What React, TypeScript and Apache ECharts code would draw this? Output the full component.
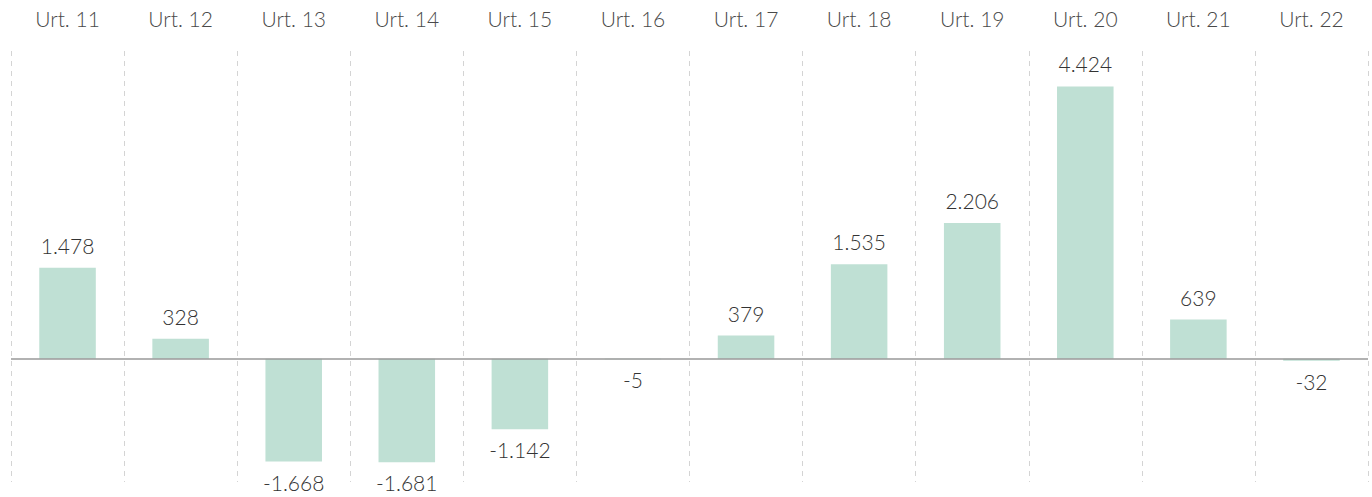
import React, { useEffect, useRef } from "react";
import * as echarts from "echarts";

const categories = ["Urt. 11", "Urt. 12", "Urt. 13", "Urt. 14", "Urt. 15", "Urt. 16", "Urt. 17", "Urt. 18", "Urt. 19", "Urt. 20", "Urt. 21", "Urt. 22"];
const values = [1478, 328, -1668, -1681, -1142, -5, 379, 1535, 2206, 4424, 639, -32];

const fmt = (v: number) => {
  const s = Math.abs(v).toString().replace(/\B(?=(\d{3})+(?!\d))/g, ".");
  return (v < 0 ? "-" : "") + s;
};

export default function App() {
  const ref = useRef<HTMLDivElement>(null);
  useEffect(() => {
    if (!ref.current) return;
    document.body.style.margin = "0";
    document.body.style.overflow = "hidden";
    const chart = echarts.init(ref.current, undefined, { renderer: "svg" });
    chart.setOption({
      animation: false,
      grid: { left: 11, right: 4, top: 51, bottom: 15, containLabel: false },
      xAxis: {
        type: "category",
        data: categories,
        position: "top",
        boundaryGap: true,
        axisLine: { show: false, onZero: false },
        axisTick: { show: false },
        axisLabel: {
          margin: 22,
          color: "#4a4a4a",
          fontFamily: "Lato",
          fontWeight: 300,
          fontSize: 21,
          interval: 0,
        },
        splitLine: {
          show: true,
          interval: 0,
          lineStyle: { color: "#d4d4d4", type: [5, 5], width: 1 },
        },
      },
      yAxis: {
        type: "value",
        min: -2000,
        max: 5000,
        show: false,
        splitLine: { show: false },
      },
      series: [
        {
          type: "bar",
          barWidth: "50%",
          itemStyle: { color: "#bfe0d4" },
          data: values.map((v) => ({
            value: v,
            label: { position: v < 0 ? "bottom" : "top", distance: v < 0 ? 10 : 12 },
          })),
          label: {
            show: true,
            color: "#333",
            fontFamily: "Lato",
            fontWeight: 300,
            fontSize: 21,
            formatter: (p: any) => fmt(p.value),
          },
          markLine: {
            silent: true,
            symbol: "none",
            label: { show: false },
            lineStyle: { color: "#999", type: "solid", width: 1.5 },
            data: [{ yAxis: 0 }],
          },
        },
      ],
    });
    return () => chart.dispose();
  }, []);
  return (
    <div
      ref={ref}
      style={{ position: "absolute", left: 0, top: 0, width: 1372, height: 497 }}
    />
  );
}
